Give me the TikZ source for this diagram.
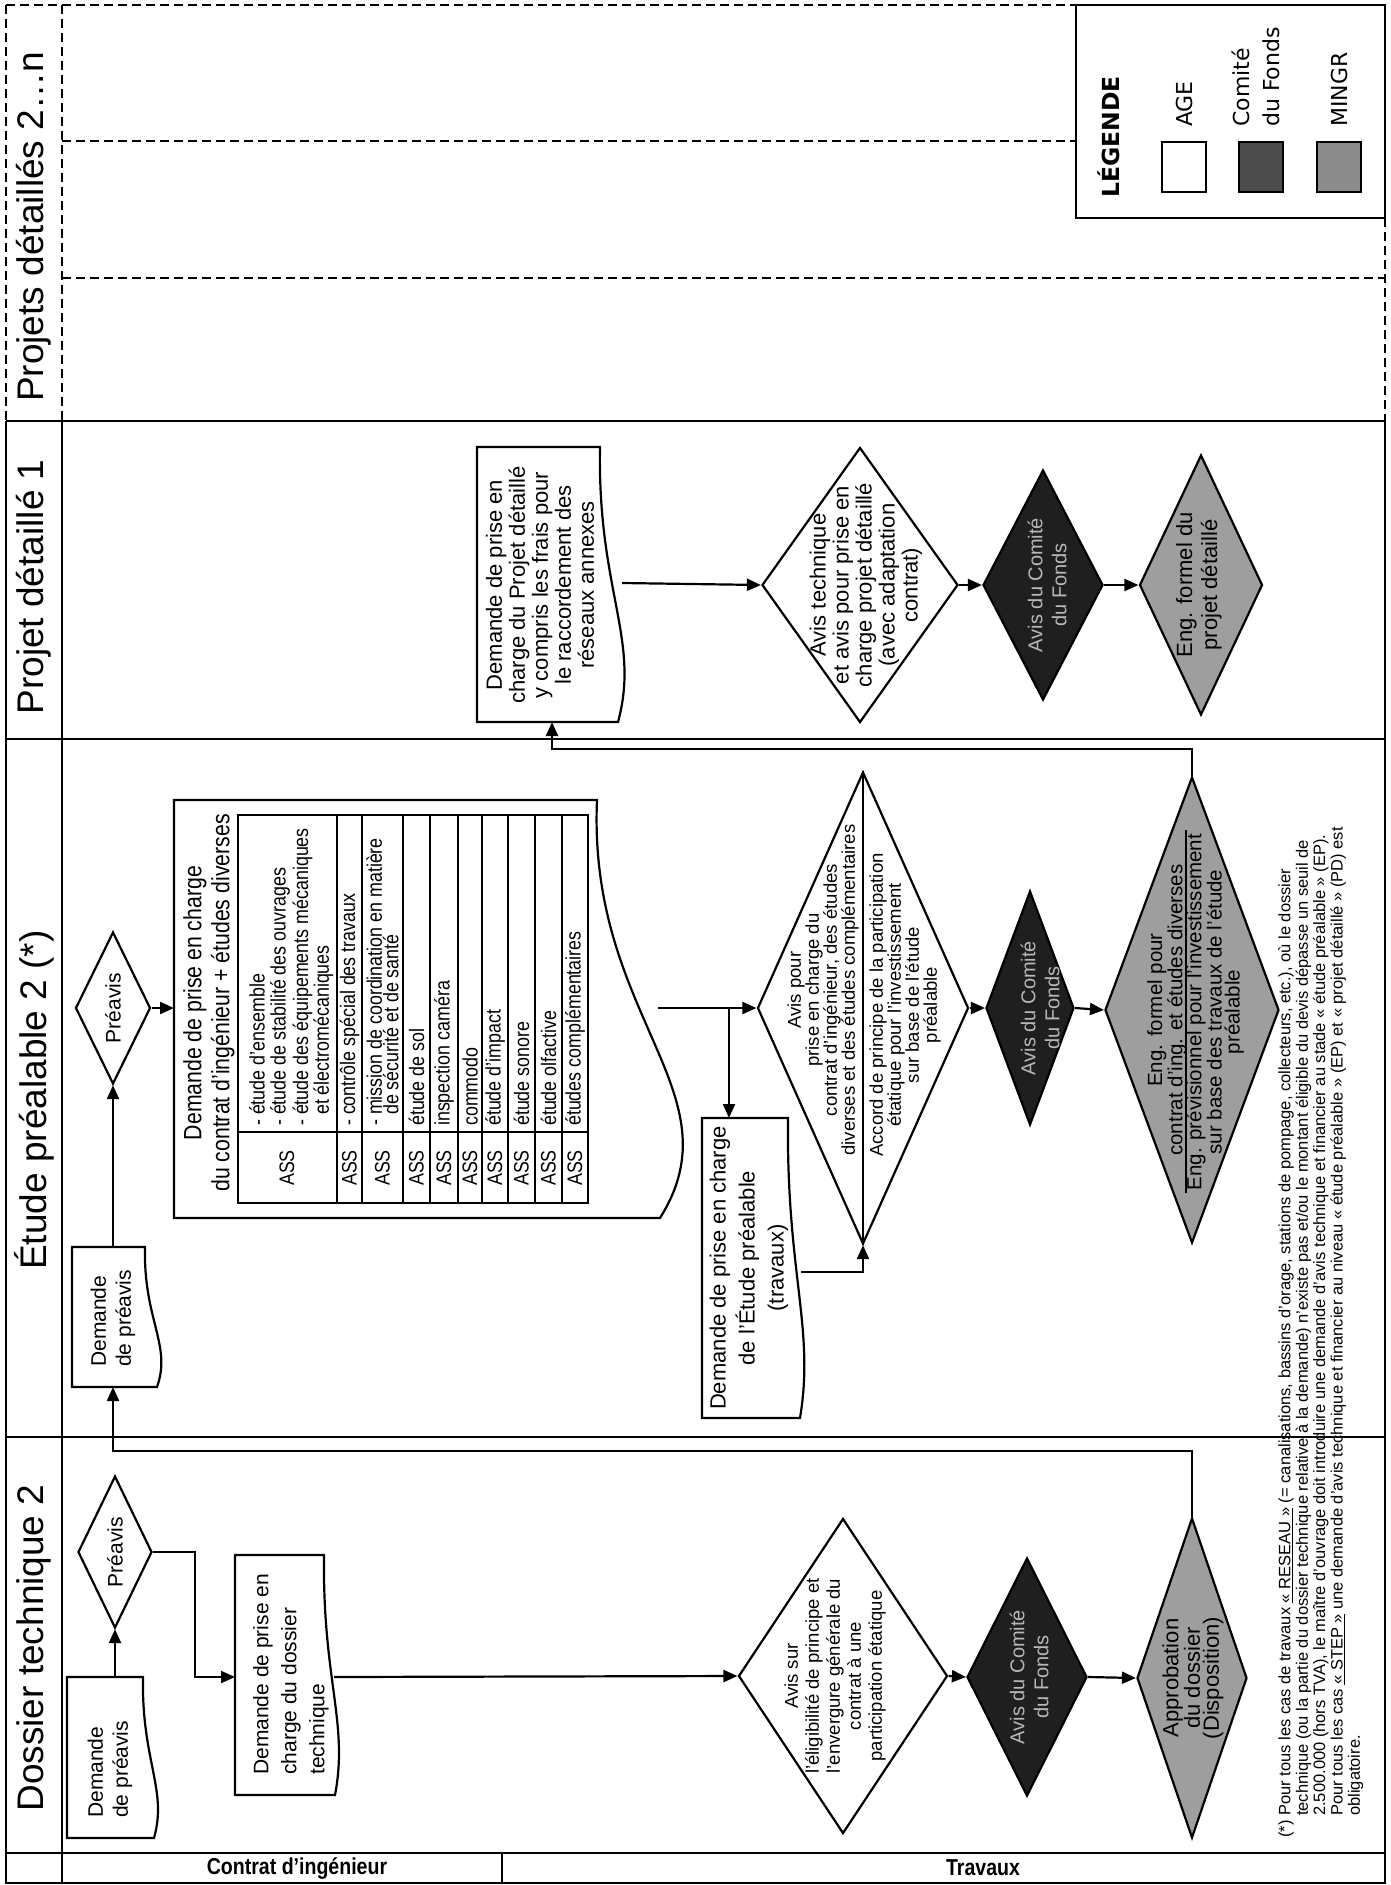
\documentclass[tikz,border=0pt]{standalone}
\usepackage{fontspec}
\setmainfont{Liberation Sans}
\newfontfamily\narrowf{Liberation Sans}[FakeStretch=0.85]
\newfontfamily\legf{DejaVu Sans}
\usetikzlibrary{arrows.meta,shapes.geometric,calc}
\newcommand{\fs}[2]{\fontsize{#1}{#2}\selectfont}
% document shape: xL, yT, xR, yB, d
\newcommand{\docpath}[5]{%
  \draw[docb] (#1,#2) -- (#3,#2) .. controls ({#3-0.15*#5},{#2+0.52*(#4-#2)}) and ({#3+2.25*#5},{#2+0.70*(#4-#2)}) .. ({#3+#5},#4) -- (#1,#4) -- cycle;}
\begin{document}
\begin{tikzpicture}[x=1pt,y=-1pt,
  frame/.style={line width=2.4pt},
  dframe/.style={line width=2.2pt, dash pattern=on 9pt off 5pt},
  conn/.style={line width=2.2pt},
  arr/.style={conn,-{Triangle[length=14pt,width=12pt]}},
  dia/.style={shape=diamond, draw, line width=2.2pt, inner sep=0pt},
  agedia/.style={dia, fill=white},
  comdia/.style={dia, fill=black!88},
  mindia/.style={dia, fill=black!38},
  rt/.style={rotate=90, inner sep=0pt, align=center},
  docb/.style={draw, line width=2.2pt, fill=white},
  legsq/.style={draw, line width=2pt, minimum width=44pt, minimum height=50pt, inner sep=0pt},
  comtxt/.style={rt, text=white!72!black, font=\fs{20}{24}},
  hdr/.style={rt, font=\fs{37}{40}},
]
\useasboundingbox (0,0) rectangle (1391,1885);

% ---------------- frame ----------------
\draw[dframe] (6,5) -- (1076,5);
\draw[dframe] (6,5) -- (6,421);
\draw[dframe] (62,5) -- (62,421);
\draw[dframe] (62,141) -- (1076,141);
\draw[dframe] (62,278) -- (1385,278);
\draw[dframe] (1385,218) -- (1385,421);
\draw[frame] (6,421) -- (6,1883) -- (1385,1883) -- (1385,421);
\draw[frame] (6,421) -- (1385,421);
\draw[frame] (6,739) -- (1385,739);
\draw[frame] (6,1437) -- (1385,1437);
\draw[frame] (6,1853) -- (1385,1853);
\draw[frame] (62,421) -- (62,1883);
\draw[frame] (502,1853) -- (502,1883);

% headers
\node[hdr] (h1) at (34,227) {Projets détaillés 2…n};
\node[hdr] (h2) at (34,587) {Projet détaillé 1};
\node[hdr] (h3) at (34,1100) {Étude préalable 2 (*)};
\node[hdr] (h4) at (34,1648) {Dossier technique 2};
\node[font=\narrowf\bfseries\fs{23}{26}] (lc) at (297,1868) {Contrat d’ingénieur};
\node[font=\narrowf\bfseries\fs{23}{26}] (lt) at (983,1868) {Travaux};

% ---------------- legend ----------------
\draw[frame, fill=white] (1076,5) rectangle (1385,218);
\node[rt, anchor=west, font=\legf\bfseries\fs{23.5}{26}] (lg) at (1109,198) {LÉGENDE};
\node[legsq, fill=white] (sqa) at (1184,167) {};
\node[legsq, fill=black!70] (sqc) at (1261,167) {};
\node[legsq, fill=black!45] (sqm) at (1339,167) {};
\node[rt, anchor=west, font=\legf\fs{22}{24}] (ta) at (1184,127) {AGE};
\node[rt, anchor=west, align=left, font=\legf\fs{22}{30}] (tc) at (1256,127) {Comité\\du Fonds};
\node[rt, anchor=west, font=\legf\fs{22}{24}] (tm) at (1339,127) {MINGR};

% ---------------- Dossier technique 2 ----------------
\docpath{67}{1677}{143}{1838}{11}
\coordinate (dp1top) at (115,1677);
\node[rt, anchor=west, align=left, font=\fs{21}{25}] (dp1t) at (110,1818) {Demande\\de préavis};
\node[agedia, minimum width=74pt, minimum height=152pt] (pv1) at (115,1552) {};
\node[rt, font=\fs{21}{24}] (pv1t) at (pv1) {Préavis};

\docpath{235}{1555}{324}{1795}{11}
\coordinate (b2in) at (235,1677);
\coordinate (b2out) at (334,1677);
\node[rt, anchor=west, align=left, font=\fs{21}{28}] (b2t) at (291,1775) {Demande de prise en\\charge du dossier\\technique};

\node[agedia, minimum width=209pt, minimum height=315pt] (av1) at (843,1676) {};
\node[rt, font=\fs{18.5}{21}] (av1t) at (835,1676) {Avis sur\\l'éligibilité de principe et\\l'envergure générale du\\contrat à une\\participation étatique};
\node[comdia, minimum width=120pt, minimum height=238pt] (dk1) at (1027,1677) {};
\node[comtxt] (dk1t) at (1029,1677) {Avis du Comité\\du Fonds};
\node[mindia, minimum width=110pt, minimum height=320pt] (gr1) at (1192,1678) {};
\node[rt, font=\fs{22}{19}] (gr1t) at (1193,1678) {Approbation\\du dossier\\(Disposition)};

\draw[arr] (dp1top) -- (pv1.south);
\draw[arr] (pv1.east) -- ++(42,0) |- (b2in);
\draw[arr] (b2out) -- (av1.west);
\draw[arr] (av1.east) -- (dk1.west);
\draw[arr] (dk1.east) -- (gr1.west);

% ---------------- Etude prealable 2 ----------------
\docpath{72}{1247}{145}{1387}{12}
\coordinate (dp2top) at (113,1247);
\coordinate (dp2bot) at (113,1387);
\node[rt, anchor=west, align=left, font=\fs{21}{25}] (dp2t) at (113,1367) {Demande\\de préavis};
\node[agedia, minimum width=75pt, minimum height=152pt] (pv2) at (113,1008) {};
\node[rt, font=\fs{21}{24}] (pv2t) at (pv2) {Préavis};

\draw[arr] (gr1.north) -- (1192,1451) -| (dp2bot);
\draw[arr] (dp2top) -- (pv2.south);

% table document
\docpath{174}{800}{597}{1218}{63}
\coordinate (tbin) at (174,1008);
\coordinate (tbout) at (658,1008);
\node[rt, font=\narrowf\fs{25}{28}] (tbh) at (209,1003) {Demande de prise en charge\\du contrat d’ingénieur + études diverses};
\draw[line width=2pt] (238,815) rectangle (588,1203);
\draw[line width=2pt] (238,1132) -- (588,1132);
\foreach \xx in {337,362,403,430,458,482,508,535,562}
  \draw[line width=2pt] (\xx,815) -- (\xx,1203);
\begin{scope}[every node/.style={rt, font=\narrowf\fs{21}{14}}]
\node (a1) at (287,1168) {ASS};
\node (a2) at (349.5,1168) {ASS};
\node (a3) at (382.5,1168) {ASS};
\node (a4) at (416.5,1168) {ASS};
\node (a5) at (444,1168) {ASS};
\node (a6) at (470,1168) {ASS};
\node (a7) at (495,1168) {ASS};
\node (a8) at (521.5,1168) {ASS};
\node (a9) at (548.5,1168) {ASS};
\node (a10) at (575,1168) {ASS};
\end{scope}
\begin{scope}[every node/.style={rt, anchor=west, align=left, font=\narrowf\fs{21}{14}}]
\node (e1) at (257,1126) {- étude d’ensemble};
\node (e2) at (280,1126) {- étude de stabilité des ouvrages};
\node (e3) at (313,1126) {- étude des équipements mécaniques\\\phantom{- }et électromécaniques};
\node (e4) at (349.5,1126) {- contrôle spécial des travaux};
\node (e5) at (382.5,1126) {- mission de coordination en matière\\\phantom{- }de sécurité et de santé};
\node (e6) at (416.5,1126) {étude de sol};
\node (e7) at (444,1126) {inspection caméra};
\node (e8) at (470,1126) {commodo};
\node (e9) at (495,1126) {étude d’impact};
\node (e10) at (521.5,1126) {étude sonore};
\node (e11) at (548.5,1126) {étude olfactive};
\node (e12) at (575,1126) {études complémentaires};
\end{scope}
\draw[arr] (pv2.east) -- (tbin);

% box 3
\docpath{702}{1118}{788}{1418}{12}
\coordinate (b3top) at (729,1118);
\coordinate (b3out) at (801,1272);
\coordinate (br) at (729,1008);
\node[rt, font=\fs{22}{29}] (b3t) at (749,1268) {Demande de prise en charge\\de l'Étude préalable\\(travaux)};

% big diamond
\node[agedia, minimum width=211pt, minimum height=472pt] (bg) at (863,1008) {};
\draw[conn] (bg.north) -- (bg.south);
\node[rt, font=\fs{18.5}{18}] (bgt1) at (823,990) {Avis pour\\prise en charge du\\contrat d'ingénieur, des études\\diverses et des études complémentaires};
\node[rt, font=\fs{18.5}{18}] (bgt2) at (905,1005) {Accord de principe de la participation\\étatique pour l'investissement\\sur base de l'étude\\préalable};

\node[comdia, minimum width=88pt, minimum height=234pt] (dk2) at (1030,1008) {};
\node[comtxt] (dk2t) at (1040,1008) {Avis du Comité\\du Fonds};
\node[mindia, minimum width=174pt, minimum height=466pt] (gr2) at (1192,1010) {};
\node[rt, font=\fs{20.5}{18}] (gr2a) at (1167,1010) {Eng. formel pour\\contrat d'ing. et études diverses};
\draw[conn] (1186,830) -- (1186,1193);
\node[rt, font=\fs{20.5}{18}] (gr2b) at (1215,1012) {Eng. prévisionnel pour l'investissement\\sur base des travaux de l'étude\\préalable};

\draw[arr] (tbout) -- (bg.west);
\draw[arr] (br) -- (b3top);
\draw[arr] (b3out) -| (bg.south);
\draw[arr] (bg.east) -- (dk2.west);
\draw[arr] (dk2.east) -- (gr2.west);

% ---------------- Projet detaille 1 ----------------
\docpath{477}{447}{600}{722}{18}
\coordinate (b4bot) at (552,722);
\coordinate (b4out) at (622,583);
\node[rt, font=\fs{22}{23}] (b4t) at (540,585) {Demande de prise en\\charge du Projet détaillé\\y compris les frais pour\\le raccordement des\\réseaux annexes};
\draw[arr] (gr2.north) -- (1192,749) -| (b4bot);

\node[agedia, minimum width=196pt, minimum height=275pt] (av3) at (860,585) {};
\node[rt, font=\fs{22}{23}] (av3t) at (866,585) {Avis technique\\et avis pour prise en\\charge projet détaillé\\(avec adaptation\\contrat)};
\node[comdia, minimum width=120pt, minimum height=230pt] (dk3) at (1043,585) {};
\node[comtxt] (dk3t) at (1047,585) {Avis du Comité\\du Fonds};
\node[mindia, minimum width=123pt, minimum height=260pt] (gr3) at (1201,585) {};
\node[rt, font=\fs{22}{25}] (gr3t) at (1199,585) {Eng. formel du\\projet détaillé};

\draw[arr] (b4out) -- (av3.west);
\draw[arr] (av3.east) -- (dk3.west);
\draw[arr] (dk3.east) -- (gr3.west);

% ---------------- footnote ----------------
\node[rt, anchor=north west, align=left, font=\fs{16.5}{17.4}] (fn) at (1278,1838) {(*)~Pour tous les cas de travaux \underline{« RESEAU »} (= canalisations, bassins d'orage, stations de pompage, collecteurs, etc.), où le dossier\\
\phantom{(*)~}technique (ou la partie du dossier technique relative à la demande) n'existe pas et/ou le montant éligible du devis dépasse un seuil de\\
\phantom{(*)~}2.500.000 (hors TVA), le maître d'ouvrage doit  introduire une demande d'avis technique et financier au stade « étude préalable » (EP).\\
\phantom{(*)~}Pour tous les cas \underline{« STEP »} une demande d'avis technique et financier au niveau « étude préalable » (EP) et « projet détaillé » (PD) est\\
\phantom{(*)~}obligatoire.};
\end{tikzpicture}
\end{document}
